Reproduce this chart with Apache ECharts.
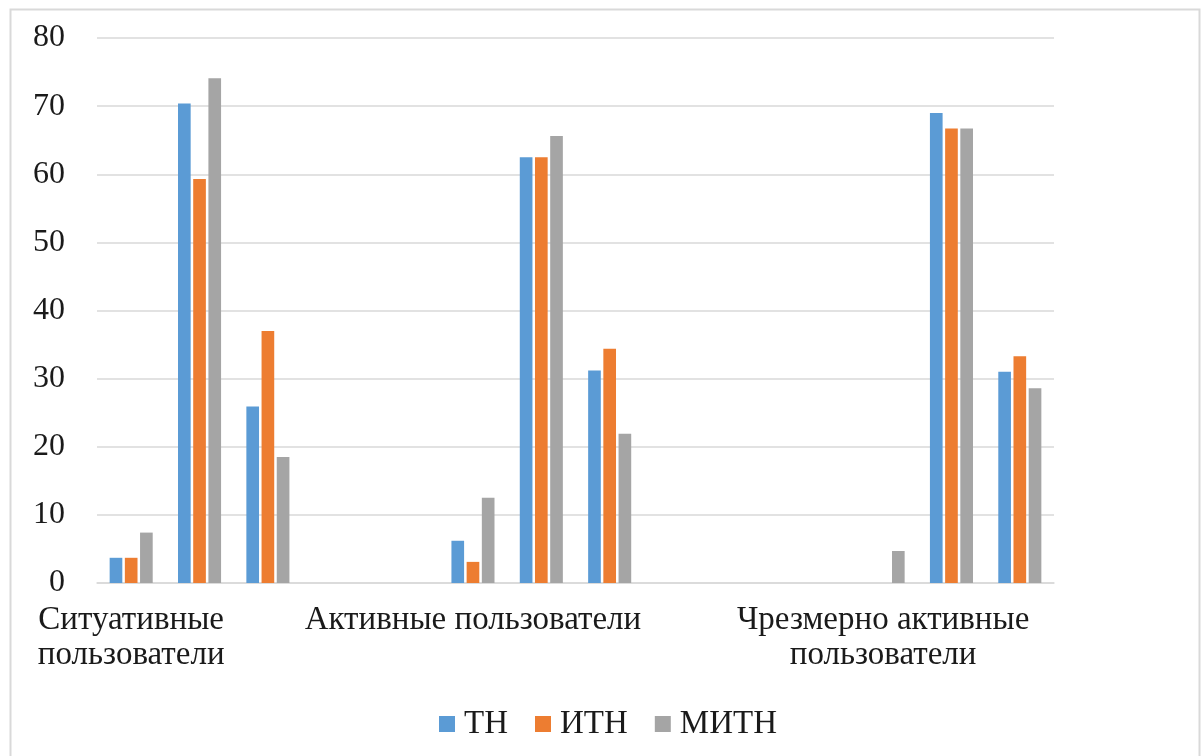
<!DOCTYPE html>
<html>
<head>
<meta charset="utf-8">
<script src="https://cdn.jsdelivr.net/npm/echarts@6/dist/echarts.min.js"></script>
<style>
html,body{margin:0;padding:0;background:#fff;}
#c{width:1201px;height:756px;}
</style>
</head>
<body>
<div id="c"></div>
<script>
const categories = ['Ситуативные\nпользователи', '', '', '', '', 'Активные пользователи', '', '', '', '', '', 'Чрезмерно активные\nпользователи', '', ''];
const seriesNames = ['ТН', 'ИТН', 'МИТН'];
const tn   = [3.7, 70.4, 25.9, null, null, 6.2, 62.5, 31.2, null, null, null, 0, 69.0, 31.0];
const itn  = [3.7, 59.3, 37.0, null, null, 3.1, 62.5, 34.4, null, null, null, 0, 66.7, 33.3];
const mitn = [7.4, 74.1, 18.5, null, null, 12.5, 65.6, 21.9, null, null, null, 4.7, 66.7, 28.6];
const yTicks = [0, 10, 20, 30, 40, 50, 60, 70, 80];

const colors = ['#5B9BD5', '#ED7D31', '#A5A5A5'];
const font = "'Liberation Serif', 'Times New Roman', serif";

const chart = echarts.init(document.getElementById('c'), null, {renderer: 'canvas'});
const mk = (name, data, i) => ({
  name, type: 'bar', data,
  barGap: '20%', barCategoryGap: '37%',
  itemStyle: {color: colors[i]},
  emphasis: {disabled: true}
});
chart.setOption({
  animation: false,
  color: colors,
  graphic: [{
    type: 'rect', left: 8, top: 7, silent: true,
    shape: {width: 1189, height: 760},
    style: {fill: 'none', stroke: '#d9d9d9', lineWidth: 2}
  }],
  grid: {left: 97, right: 147, top: 38, bottom: 173, containLabel: false},
  legend: {
    data: seriesNames, top: 702, left: 434,
    icon: 'rect', itemWidth: 16, itemHeight: 16, itemGap: 27,
    textStyle: {fontFamily: font, fontSize: 33, lineHeight: 34, color: '#1a1a1a', padding: [0, 0, 0, 4]}
  },
  xAxis: {
    type: 'category', data: categories,
    axisLine: {lineStyle: {color: '#d9d9d9', width: 1.5}},
    axisTick: {show: false},
    axisLabel: {interval: 0, fontFamily: font, fontSize: 33, color: '#1a1a1a', lineHeight: 35, margin: 20, align: 'center'}
  },
  yAxis: {
    type: 'value', min: yTicks[0], max: yTicks[yTicks.length - 1], interval: 10,
    axisLine: {show: false}, axisTick: {show: false},
    splitLine: {lineStyle: {color: '#d9d9d9', width: 1.5}},
    axisLabel: {fontFamily: font, fontSize: 32, color: '#1a1a1a', margin: 32}
  },
  series: [mk(seriesNames[0], tn, 0), mk(seriesNames[1], itn, 1), mk(seriesNames[2], mitn, 2)]
});
</script>
</body>
</html>
